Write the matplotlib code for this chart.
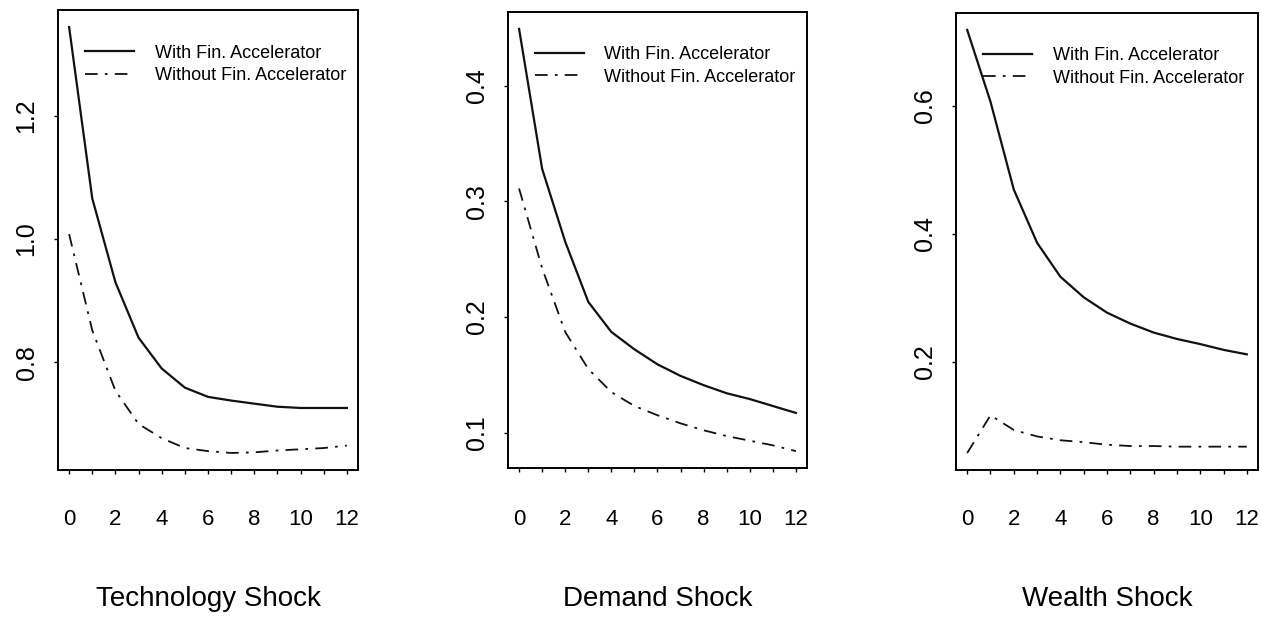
import matplotlib
matplotlib.use("Agg")
import matplotlib.pyplot as plt
import numpy as np

plt.rcParams['font.family'] = ['Liberation Sans', 'DejaVu Sans']

periods = list(range(13))
titles = ["Technology Shock", "Demand Shock", "Wealth Shock"]
legend_labels = ["With Fin. Accelerator", "Without Fin. Accelerator"]

tech_with = [1.344, 1.066, 0.930, 0.840, 0.790, 0.759, 0.744, 0.738, 0.733, 0.728, 0.726, 0.726, 0.726]
tech_without = [1.008, 0.852, 0.754, 0.700, 0.677, 0.661, 0.656, 0.653, 0.654, 0.657, 0.659, 0.661, 0.665]

demand_with = [0.449, 0.328, 0.265, 0.213, 0.187, 0.172, 0.159, 0.149, 0.141, 0.134, 0.129, 0.123, 0.117]
demand_without = [0.311, 0.242, 0.187, 0.155, 0.135, 0.123, 0.115, 0.108, 0.102, 0.097, 0.093, 0.089, 0.084]

wealth_with = [0.718, 0.606, 0.469, 0.386, 0.333, 0.301, 0.277, 0.260, 0.246, 0.236, 0.228, 0.219, 0.212]
wealth_without = [0.058, 0.117, 0.094, 0.084, 0.078, 0.075, 0.071, 0.069, 0.069, 0.068, 0.068, 0.068, 0.068]

ytick_sets = [[0.8, 1.0, 1.2], [0.1, 0.2, 0.3, 0.4], [0.2, 0.4, 0.6]]
ytick_labels = [["0.8", "1.0", "1.2"], ["0.1", "0.2", "0.3", "0.4"], ["0.2", "0.4", "0.6"]]

series = [(tech_with, tech_without), (demand_with, demand_without), (wealth_with, wealth_without)]

W, H = 1261, 621
fig = plt.figure(figsize=(W / 100, H / 100), dpi=100)

# axes boxes in pixels: left, top, right, bottom
boxes = [(58, 10, 358, 470), (508, 12, 807, 468), (956, 13, 1258, 470)]

for i, (box, (s_with, s_without)) in enumerate(zip(boxes, series)):
    l, t, r, b = box
    ax = fig.add_axes([l / W, 1 - b / H, (r - l) / W, (b - t) / H])
    ax.plot(periods, s_with, color='#111111', lw=1.6, solid_joinstyle='round',
            label=legend_labels[0])
    ax.plot(periods, s_without, color='#111111', lw=1.3,
            linestyle=(0, (7, 4, 1.5, 4)), label=legend_labels[1])
    ax.margins(x=0.04, y=0.04)
    ax.set_xticks(periods)
    ax.set_xticklabels([str(p) if p % 2 == 0 else "" for p in periods])
    ax.set_yticks(ytick_sets[i])
    ax.set_yticklabels(ytick_labels[i])
    xpad = 25 + (470 - b) / 1.389
    ax.tick_params(axis='x', direction='out', length=3, width=1, labelsize=16, pad=xpad)
    ax.tick_params(axis='y', direction='out', length=3, width=1, labelsize=18, pad=11,
                   labelrotation=90)
    for lab in ax.get_yticklabels():
        lab.set_va('center')
    for sp in ax.spines.values():
        sp.set_linewidth(1.4)
    fig.text((l + r) / 2 / W, 1 - 599 / H, titles[i], ha='center', va='center',
             fontsize=20)
    ax.legend(loc='upper left', bbox_to_anchor=(0.09, 0.925), frameon=False,
              fontsize=13, handlelength=2.7, handletextpad=1.15, labelspacing=0.3,
              borderpad=0, borderaxespad=0)

fig.savefig("out.png", dpi=100)
